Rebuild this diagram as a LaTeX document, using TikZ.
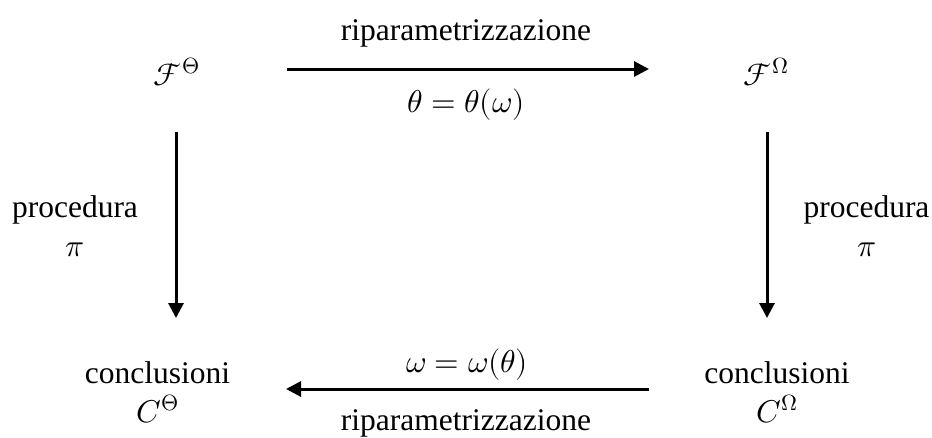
\documentclass[tikz,border=0pt]{standalone}
\usepackage{amsmath}
\usepackage{fontspec}
\usepackage{unicode-math}
\setmainfont{Liberation Serif}
\usetikzlibrary{arrows.meta, positioning}

\begin{document}
\begin{tikzpicture}[
      x=1pt, y=-1pt,
      every node/.style={font=\fontsize{31.5}{38.5}\selectfont, inner sep=0pt},
      lbl/.style={anchor=base},
      two/.style={anchor=north, align=center},
      ar/.style={-{Triangle[length=15pt, width=15pt]}, line width=3pt}
    ]
    \useasboundingbox (0,0) rectangle (932,437);
    \node[lbl] (Ft) at (177,85) {$\mathcal{F}^{\Theta}$};
    \node[lbl] (Fo) at (766,85) {$\mathcal{F}^{\Omega}$};
    \node[two] (Ct) at (157.5,361.5) {conclusioni\\$C^{\Theta}$};
    \node[two] (Co) at (777,361.5) {conclusioni\\$C^{\Omega}$};
    \node[lbl] (rtop) at (466,40) {riparametrizzazione};
    \node[lbl] (ttop) at (466,112) {$\theta = \theta(\omega)$};
    \node[lbl] (wbot) at (467,372) {$\omega = \omega(\theta)$};
    \node[lbl] (rbot) at (466,430) {riparametrizzazione};
    \node[two] (pl) at (75,195.5) {procedura\\$\pi$};
    \node[two] (pr) at (866.5,195.5) {procedura\\$\pi$};
    \draw[ar] ([shift={(110,-16)}]Ft.base) -- ([shift={(-117,-16)}]Fo.base);
    \draw[ar] ([shift={(-1,47)}]Ft.base) -- ([shift={(18.5,-43.5)}]Ct.north);
    \draw[ar] ([shift={(1,47)}]Fo.base) -- ([shift={(-10,-43.5)}]Co.north);
    \draw[ar] ([shift={(-128,27.5)}]Co.north) -- ([shift={(128.5,27.5)}]Ct.north);
\end{tikzpicture}
\end{document}
